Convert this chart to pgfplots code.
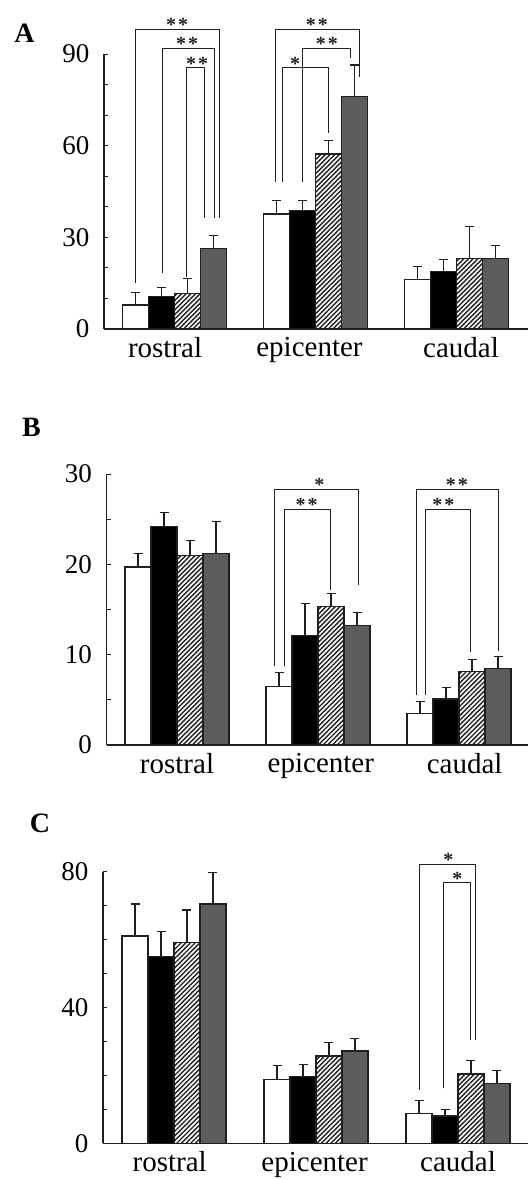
\documentclass[border=0pt]{standalone}
\usepackage{fontspec}
\setmainfont{Liberation Serif}
\usepackage{pgfplots}
\usepackage{pgfplotstable}
\pgfplotsset{compat=1.18}
\usetikzlibrary{patterns.meta}

\pgfplotstableread{
x w we k ke h he g ge
0 7.9 4.0 10.6 3.0 11.7 4.8 26.4 4.1
1 37.6 4.5 38.7 3.4 57.3 4.5 76.0 10.4
2 16.3 4.1 18.8 4.0 23.1 10.4 23.1 4.1
}\dataA
\pgfplotstableread{
x w we k ke h he g ge
0 19.7 1.5 24.2 1.5 21.0 1.6 21.2 3.5
1 6.5 1.5 12.1 3.6 15.3 1.5 13.2 1.5
2 3.5 1.3 5.1 1.3 8.1 1.4 8.5 1.3
}\dataB
\pgfplotstableread{
x w we k ke h he g ge
0 61.1 9.4 55.0 7.3 59.2 9.5 70.5 9.2
1 18.8 4.1 19.6 3.7 25.7 3.9 27.2 3.7
2 8.8 3.8 8.0 2.0 20.4 4.1 17.7 3.7
}\dataC

\definecolor{barline}{gray}{0.12}
\definecolor{darkbar}{gray}{0.36}

\pgfplotsset{
  panel/.style={
    scale only axis,
    anchor=south west,
    axis x line*=bottom, axis y line*=left,
    axis line style={-, line width=1.2pt, draw=barline},
    xmin=-0.5, ymin=0,
    xticklabels={rostral,epicenter,caudal},
    xtick style={draw=none},
    yticklabel style={font=\fontsize{27}{30}\selectfont, xshift=-11pt},
    xticklabel style={font=\fontsize{29}{32}\selectfont, yshift=-5pt},
    /pgf/number format/assume math mode=true,
    tick align=inside, major tick length=4pt, minor tick length=4pt,
    ytick style={line width=0.8pt, draw=barline},
    minor tick style={line width=0.8pt, draw=barline},
    clip=false,
  },
  bars/.style={ybar, bar width=26pt, draw=barline, line width=1.3pt, forget plot},
  errs/.style={draw=none, no markers, forget plot,
    error bars/y dir=plus, error bars/y explicit,
    error bars/error bar style={line width=1.2pt, draw=barline, solid},
    error bars/error mark options={rotate=90, mark size=4.5pt, line width=1.2pt, draw=barline, solid}},
  brk/.style={sharp plot, mark=none, line width=1pt, draw=barline, forget plot},
  hatch/.style={fill=white, postaction={pattern={Lines[angle=45,distance=3.3pt,line width=1.4pt]}, pattern color=barline}},
}
\newcommand{\sig}[3]{\node[font=\bfseries\fontsize{20}{20}\selectfont, anchor=base, inner sep=0pt, yshift=-2.5pt, text=barline] at (axis cs:#1,#2) {#3};}
\newcommand{\dstar}{*\hspace{2pt}*}
% #1 table, #2 outer offset, #3 inner offset
\newcommand{\groupbars}[3]{%
\addplot[bars, bar shift=-39pt, fill=white] table[x=x,y=w]{#1};
\addplot[bars, bar shift=-13pt, fill=black] table[x=x,y=k]{#1};
\addplot[bars, bar shift=13pt, hatch] table[x=x,y=h]{#1};
\addplot[bars, bar shift=39pt, fill=darkbar] table[x=x,y=g]{#1};
\addplot[errs] table[x expr=\thisrow{x}-#2, y=w, y error=we]{#1};
\addplot[errs] table[x expr=\thisrow{x}-#3, y=k, y error=ke]{#1};
\addplot[errs] table[x expr=\thisrow{x}+#3, y=h, y error=he]{#1};
\addplot[errs] table[x expr=\thisrow{x}+#2, y=g, y error=ge]{#1};
}

\begin{document}
\begin{tikzpicture}
\useasboundingbox (0,0) rectangle (531pt,1180pt);

% Panel A
\begin{axis}[panel, at={(104pt,851pt)}, width=424pt, height=275pt,
  xtick={-0.067,0.957,2.032},
  xmax=2.507, ymax=90, ytick={0,30,60,90}, minor ytick={10,20,40,50,70,80}]
\groupbars{\dataA}{0.2766}{0.0922}
\addplot[brk] coordinates {(-0.278,15.1) (-0.278,98.1) (0.316,98.1) (0.316,36.3)};
\addplot[brk] coordinates {(-0.084,18.3) (-0.084,91.9) (0.287,91.9) (0.287,36.3)};
\addplot[brk] coordinates {(0.082,17.0) (0.082,85.5) (0.216,85.5) (0.216,36.3)};
\addplot[brk] coordinates {(0.713,48.1) (0.713,98.1) (1.309,98.1) (1.309,82.5)};
\addplot[brk] coordinates {(0.911,48.1) (0.911,91.9) (1.245,91.9) (1.245,88.7)};
\addplot[brk] coordinates {(0.767,48.1) (0.767,85.5) (1.091,85.5) (1.091,64.1)};
\sig{0.018}{98.1}{\dstar}
\sig{0.089}{91.9}{\dstar}
\sig{0.160}{85.5}{\dstar}
\sig{1.009}{98.1}{\dstar}
\sig{1.080}{91.9}{\dstar}
\sig{0.855}{85.5}{*}
\end{axis}

% Panel B
\begin{axis}[panel, at={(106.5pt,435pt)}, width=421.5pt, height=271pt,
  xtick={0,1.02,2.04},
  xmax=2.489, ymax=30, ytick={0,10,20,30}, minor ytick={5,15,25}]
\groupbars{\dataB}{0.2766}{0.0922}
\addplot[brk] coordinates {(0.689,8.7) (0.689,28.3) (1.287,28.3) (1.287,17.7)};
\addplot[brk] coordinates {(0.760,8.7) (0.760,26.1) (1.091,26.1) (1.091,17.2)};
\addplot[brk] coordinates {(1.695,5.5) (1.695,28.3) (2.279,28.3) (2.279,10.4)};
\addplot[brk] coordinates {(1.760,5.5) (1.760,26.1) (2.084,26.1) (2.084,10.3)};
\sig{1.010}{28.3}{*}
\sig{0.920}{26.1}{\dstar}
\sig{1.984}{28.3}{\dstar}
\sig{1.889}{26.1}{\dstar}
\end{axis}

% Panel C
\begin{axis}[panel, at={(103pt,36.7pt)}, width=425pt, height=271.6pt,
  xtick={-0.03,0,2},
  xtick={-0.03,0.99,2.0},
  xmax=2.493, ymax=80, ytick={0,40,80}, minor ytick={10,20,30,50,60,70}]
\groupbars{\dataC}{0.2746}{0.0915}
\addplot[brk] coordinates {(1.729,15.7) (1.729,82.2) (2.121,82.2) (2.121,30.4)};
\addplot[brk] coordinates {(1.898,16.2) (1.898,76.8) (2.091,76.8) (2.091,30.4)};
\sig{1.933}{82.2}{*}
\sig{1.996}{76.8}{*}
\end{axis}

\node[font=\bfseries\fontsize{28}{30}\selectfont] at (24.5pt,1146.5pt) {A};
\node[font=\bfseries\fontsize{28}{30}\selectfont] at (31.5pt,753pt) {B};
\node[font=\bfseries\fontsize{28}{30}\selectfont] at (40pt,357pt) {C};
\end{tikzpicture}
\end{document}
